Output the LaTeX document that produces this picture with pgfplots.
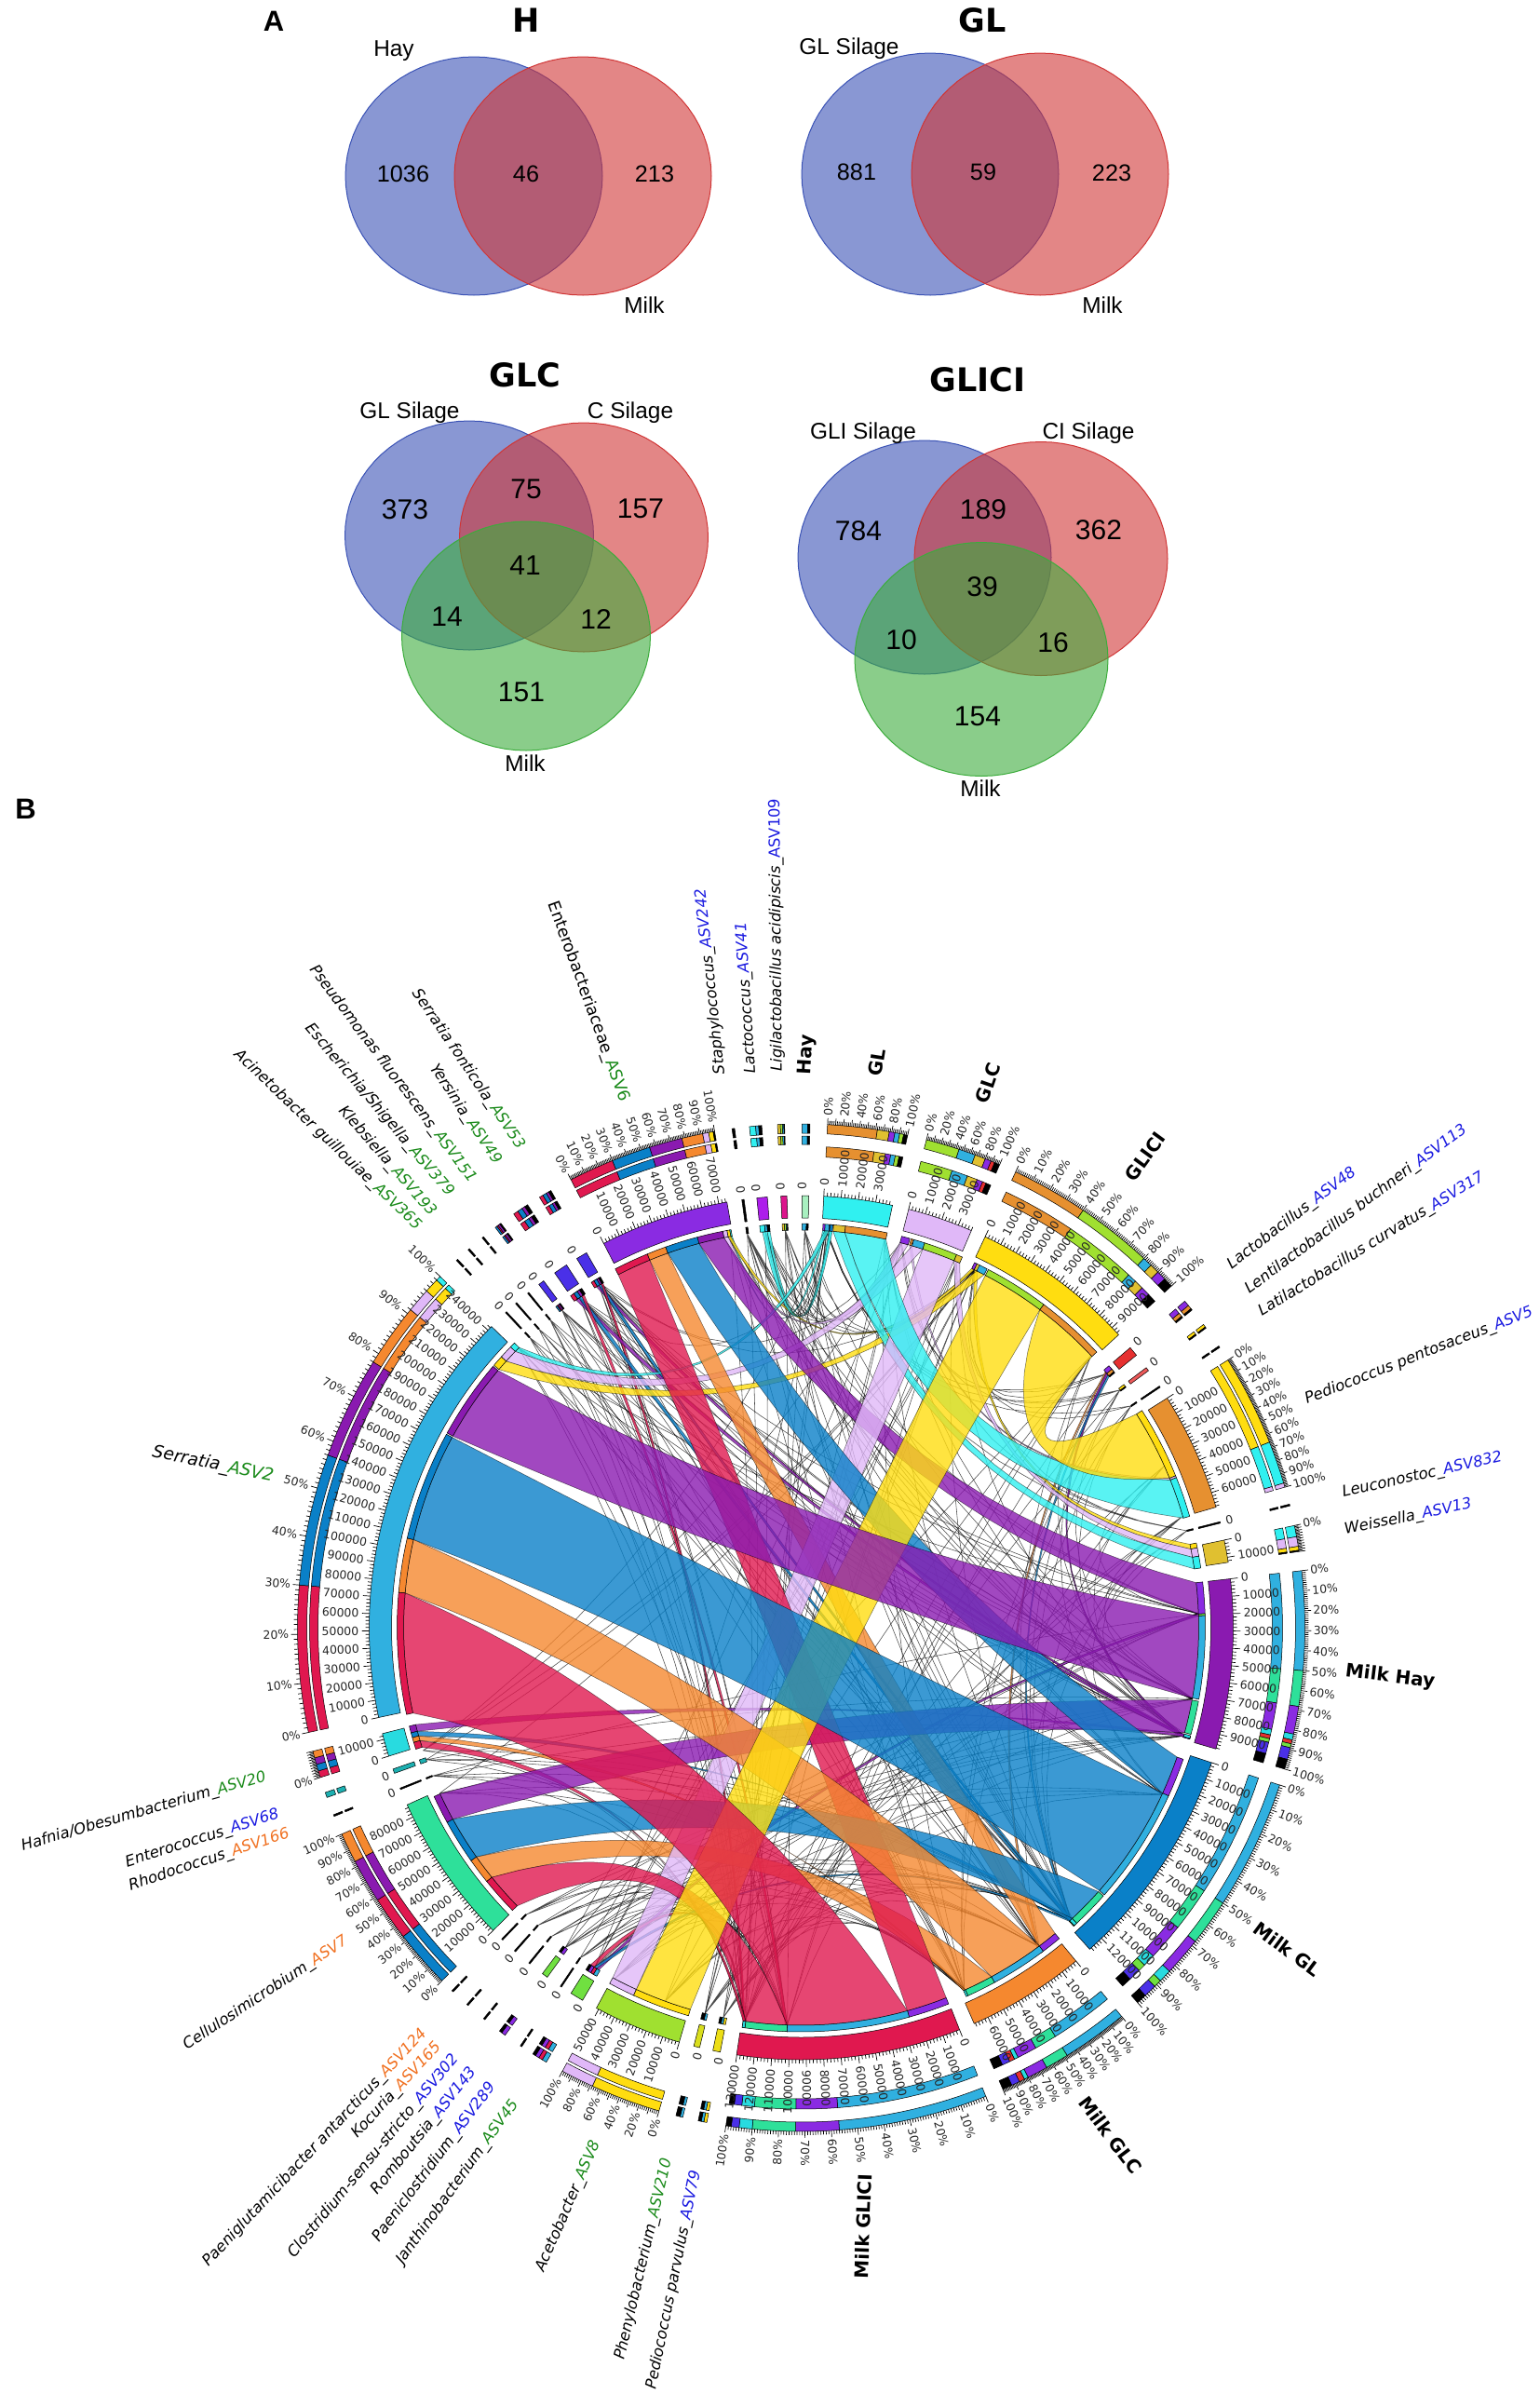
\documentclass[border=0pt]{standalone}
\usepackage{fontspec}
\usepackage{pgfplots}
\pgfplotsset{compat=1.18}
\setmainfont{DejaVu Sans}
\newfontfamily\arial{Liberation Sans}
\definecolor{crim}{HTML}{E0184F}
\definecolor{oran}{HTML}{F5882F}
\definecolor{blu}{HTML}{0A80C8}
\definecolor{purp}{HTML}{8A1AB0}
\definecolor{yel}{HTML}{FFDD10}
\definecolor{cya}{HTML}{30F0F0}
\definecolor{lil}{HTML}{E0B8F8}
\definecolor{aserr}{HTML}{30B0E0}
\definecolor{aent}{HTML}{8A2BE2}
\definecolor{acel}{HTML}{2EE09A}
\definecolor{aace}{HTML}{A0E030}
\definecolor{aped}{HTML}{E69030}
\definecolor{awei}{HTML}{E0C030}
\definecolor{atw}{HTML}{28DBE0}
\definecolor{ablue}{HTML}{4A30E8}
\definecolor{ared}{HTML}{E63030}
\definecolor{agreen}{HTML}{70E040}
\definecolor{hayc}{HTML}{A8F0C0}
\definecolor{vb}{HTML}{3A52B5}
\definecolor{vr}{HTML}{D03535}
\definecolor{vg}{HTML}{3CAC3C}
\definecolor{tg}{HTML}{1A8A1A}
\definecolor{tb}{HTML}{1A1AE0}
\definecolor{to}{HTML}{F07020}
\newcommand\ag[1]{\textcolor{tg}{ASV#1}}
\newcommand\ab[1]{\textcolor{tb}{ASV#1}}
\newcommand\ao[1]{\textcolor{to}{ASV#1}}
\def\Cx{860.5}\def\Cy{1748}
\newcount\ci\newcount\ck
\newcommand\arcpts[3]{%
  \pgfmathtruncatemacro\myn{max(1,ceil(abs((#2)-(#1))/1.5))}%
  \ci=0
  \loop
    \pgfmathsetmacro\myth{(#1)+((#2)-(#1))*\the\ci/\myn}%
    \pgfmathsetmacro\px{\Cx+(#3)*cos(\myth)}%
    \pgfmathsetmacro\py{\Cy-(#3)*sin(\myth)}%
    \xdef\pts{\pts(\px,\py)}%
  \ifnum\ci<\myn \advance\ci by 1 \repeat}
\newcommand\bezpts[4]{%
  \pgfmathsetmacro\ax{(#3)*cos(#1)}\pgfmathsetmacro\ay{(#3)*sin(#1)}%
  \pgfmathsetmacro\bx{(#3)*cos(#2)}\pgfmathsetmacro\by{(#3)*sin(#2)}%
  \pgfmathsetmacro\kx{0.285*(\ax+\bx)}\pgfmathsetmacro\ky{0.285*(\ay+\by)}%
  \ci=0
  \loop
    \pgfmathsetmacro\myt{\the\ci/#4}%
    \pgfmathsetmacro\px{\Cx+(1-\myt)*(1-\myt)*\ax+2*\myt*(1-\myt)*\kx+\myt*\myt*\bx}%
    \pgfmathsetmacro\py{\Cy-((1-\myt)*(1-\myt)*\ay+2*\myt*(1-\myt)*\ky+\myt*\myt*\by)}%
    \xdef\pts{\pts(\px,\py)}%
  \ifnum\ci<#4 \advance\ci by 1 \repeat}
\newcommand\ringseg[5]{%
  \gdef\pts{}\arcpts{#2}{#3}{#4}\arcpts{#3}{#2}{#5}\arcpts{#2}{#2}{#4}%
  \edef\tmp{\noexpand\addplot[fill=#1,draw=black,line width=0.25pt] coordinates {\pts};}\tmp}
\newcommand\chord[6]{%
  \gdef\pts{}\arcpts{#3}{#4}{427}\bezpts{#4}{#5}{427}{16}\arcpts{#5}{#6}{427}\bezpts{#6}{#3}{427}{16}%
  \edef\tmp{\noexpand\addplot[fill=#1,fill opacity=0.8,draw=black,draw opacity=0.55,line width=0.25pt] coordinates {\pts};}\tmp
  \ringseg{#2}{#3}{#4}{427}{434}\ringseg{#1}{#5}{#6}{427}{434}}
\newcommand\stack[5]{%
  \gdef\myprev{0}%
  \foreach \myf/\myc in {#5}{%
    \pgfmathsetmacro\myA{(#1)-((#1)-(#2))*\myprev}%
    \pgfmathsetmacro\myB{(#1)-((#1)-(#2))*\myf}%
    \ringseg{\myc}{\myA}{\myB}{#3}{#4}%
    \xdef\myprev{\myf}}}
\newcommand\placelab[3]{% angle, radius, text
  \pgfmathsetmacro\px{\Cx+(#2)*cos(#1)}\pgfmathsetmacro\py{\Cy-(#2)*sin(#1)}%
  \pgfmathsetmacro\mycs{cos(#1)}%
  \ifdim\mycs pt<0pt
    \pgfmathsetmacro\rr{(#1)+180}\def\anc{east}%
  \else
    \pgfmathsetmacro\rr{#1}\def\anc{west}%
  \fi
  \edef\tmp{\noexpand\node[val,rotate=\rr,anchor=\anc] at (axis cs:\px,\py) {#3};}\tmp}
\newcommand\valticks[2]{%
  \gdef\pts{}%
  \pgfmathtruncatemacro\nk{floor(((#1)-(#2))/0.4626)}%
  \ck=0
  \loop
    \pgfmathsetmacro\myth{(#1)-0.4626*\the\ck}%
    \pgfmathtruncatemacro\md{mod(\the\ck,5)}%
    \ifnum\md=0 \def\myln{472}\else\def\myln{468}\fi
    \pgfmathsetmacro\px{\Cx+464*cos(\myth)}\pgfmathsetmacro\py{\Cy-464*sin(\myth)}%
    \xdef\pts{\pts(\px,\py)}%
    \pgfmathsetmacro\px{\Cx+\myln*cos(\myth)}\pgfmathsetmacro\py{\Cy-\myln*sin(\myth)}%
    \xdef\pts{\pts(\px,\py)(nan,nan)}%
    \ifnum\md=0
      \edef\vv{\the\numexpr2000*\ck\relax}%
      \placelab{\myth}{475}{\vv}%
    \fi
  \ifnum\ck<\nk \advance\ck by 1 \repeat
  \edef\tmp{\noexpand\addplot[black,line width=0.35pt,unbounded coords=jump] coordinates {\pts};}\tmp}
\newcommand\pctticks[4]{% a b minorstep labelstep
  \gdef\pts{}%
  \pgfmathtruncatemacro\nk{100/#3}%
  \ck=0
  \loop
    \pgfmathsetmacro\myth{(#1)-((#1)-(#2))*\the\ck/\nk}%
    \edef\vv{\the\numexpr#3*\ck\relax}%
    \pgfmathtruncatemacro\md{mod(\vv,10)}%
    \ifnum\md=0 \def\myln{548}\else\def\myln{545}\fi
    \pgfmathsetmacro\px{\Cx+541*cos(\myth)}\pgfmathsetmacro\py{\Cy-541*sin(\myth)}%
    \xdef\pts{\pts(\px,\py)}%
    \pgfmathsetmacro\px{\Cx+\myln*cos(\myth)}\pgfmathsetmacro\py{\Cy-\myln*sin(\myth)}%
    \xdef\pts{\pts(\px,\py)(nan,nan)}%
    \pgfmathtruncatemacro\mm{mod(\vv,#4)}%
    \ifnum\mm=0
      \placelab{\myth}{550}{\vv\noexpand\%}%
    \fi
  \ifnum\ck<\nk \advance\ck by 1 \repeat
  \edef\tmp{\noexpand\addplot[black,line width=0.35pt,unbounded coords=jump] coordinates {\pts};}\tmp}
% big group sector: a b colour stack minor labelstep
\newcommand\grpsec[6]{%
  \ringseg{#3}{#1}{#2}{440}{464}%
  \stack{#1}{#2}{506}{517}{#4}\stack{#1}{#2}{531}{541}{#4}\valticks{#1}{#2}\pctticks{#1}{#2}{#5}{#6}}
\newcommand\asvsec[6]{%
  \ringseg{#3}{#1}{#2}{440}{464}%
  \stack{#1}{#2}{519}{528}{#4}\stack{#1}{#2}{531}{541}{#4}\valticks{#1}{#2}\pctticks{#1}{#2}{#5}{#6}}
\newcommand\smallsec[4]{%
  \ringseg{#3}{#1}{#2}{440}{464}\placelab{#1}{470}{0}%
  \stack{#1}{#2}{519}{528}{#4}\stack{#1}{#2}{531}{541}{#4}\stack{#1}{#2}{427}{434}{#4}}
\newcommand\thinfan[2]{%
  \gdef\pts{}%
  \foreach \mytg in {#2}{\bezpts{#1}{\mytg}{427}{10}\xdef\pts{\pts(nan,nan)}}%
  \edef\tmp{\noexpand\addplot[black,opacity=0.7,line width=0.28pt,unbounded coords=jump] coordinates {\pts};}\tmp}
\newcommand\venn[6]{%
  \gdef\pts{}\ci=0
  \loop
    \pgfmathsetmacro\px{#1+#3*cos(5*\the\ci)}\pgfmathsetmacro\py{#2+#4*sin(5*\the\ci)}%
    \xdef\pts{\pts(\px,\py)}%
  \ifnum\ci<72 \advance\ci by 1 \repeat
  \edef\tmp{\noexpand\addplot[fill=#5,fill opacity=0.6,draw=#6,line width=0.5pt] coordinates {\pts};}\tmp}
\newcommand\lab[5]{\node[lab,rotate=#3,anchor=#4] at (axis cs:#1,#2) {#5};}
\newcommand\blab[4]{\node[blab,rotate=#3] at (axis cs:#1,#2) {#4};}
\newcommand\vt[3]{\node[vt] at (axis cs:#1,#2) {#3};}
\newcommand\vn[3]{\node[vn] at (axis cs:#1,#2) {#3};}
\newcommand\vm[3]{\node[vm] at (axis cs:#1,#2) {#3};}
\newcommand\vl[3]{\node[vl] at (axis cs:#1,#2) {#3};}
\begin{document}
\begin{tikzpicture}
\tikzset{val/.style={font=\fontsize{6.2}{7}\selectfont,inner sep=0pt,text=black!85},
 lab/.style={font=\fontsize{8.2}{10}\selectfont,inner sep=0pt},
 blab/.style={font=\bfseries\fontsize{10}{12}\selectfont,inner sep=0pt},
 vt/.style={font=\bfseries\fontsize{17.5}{20}\selectfont,inner sep=0pt},
 vn/.style={font=\arial\fontsize{12.6}{15}\selectfont,inner sep=0pt},
 vm/.style={font=\arial\fontsize{15}{18}\selectfont,inner sep=0pt},
 vl/.style={font=\arial\fontsize{12.2}{14}\selectfont,inner sep=0pt}}
\begin{axis}[scale only axis,width=827pt,height=1285.5pt,hide axis,clip=false,
  xmin=0,xmax=1654,ymin=0,ymax=2571,y dir=reverse]
% ---------- Venn panels
\venn{509}{189}{138}{128}{vb}{vb}\venn{626}{189}{138}{128}{vr}{vr}
\venn{999}{187}{138}{130}{vb}{vb}\venn{1117}{187}{138}{130}{vr}{vr}
\venn{504}{575}{133.5}{123}{vb}{vb}\venn{627}{577}{133.5}{123}{vr}{vr}\venn{565}{683}{133.5}{123}{vg}{vg}
\venn{993}{598.5}{136}{125.5}{vb}{vb}\venn{1118}{600}{136}{125.5}{vr}{vr}\venn{1054}{708}{136}{125.5}{vg}{vg}
\node[font=\arial\bfseries\fontsize{15.5}{18}\selectfont,inner sep=0pt] at (axis cs:294,23) {A};
\node[font=\arial\bfseries\fontsize{15.5}{18}\selectfont,inner sep=0pt] at (axis cs:27.5,868.6) {B};
\vt{565}{22}{H}\vt{1055}{22}{GL}\vt{564}{403}{GLC}\vt{1050}{408}{GLICI}
\vl{423}{55}{Hay}\vl{692}{328}{Milk}\vl{912}{52}{GL Silage}\vl{1184}{328}{Milk}
\vl{440}{443}{GL Silage}\vl{677}{443}{C Silage}\vl{564}{820}{Milk}
\vl{927}{465}{GLI Silage}\vl{1169}{465}{CI Silage}\vl{1053}{847}{Milk}
\vn{433}{187}{1036}\vn{565}{187}{46}\vn{703}{187}{213}
\vn{920}{185}{881}\vn{1056}{185}{59}\vn{1194}{186}{223}
\vm{435}{547}{373}\vm{565}{525}{75}\vm{688}{546}{157}\vm{564}{607}{41}\vm{480}{662}{14}\vm{640}{665}{12}\vm{560}{743}{151}
\vm{922}{570}{784}\vm{1056}{547}{189}\vm{1180}{569}{362}\vm{1055}{630}{39}\vm{968}{687}{10}\vm{1131}{690}{16}\vm{1050}{769}{154}
% ---------- thin links of the small taxa
\thinfan{120.6}{-15.8,-10.3,2,-47.3,-24.8,-65.8,-53.3,-98.2,-92,64.2}
\thinfan{120.2}{-15.9,-10.4,-47.4,-53.4,-98.3,-92.1,75.5}
\thinfan{123.9}{-15.8,-10.3,2,-47.3,-24.8,-65.8,-53.3,-98.2,-92,86.4}
\thinfan{127}{-15.7,-10.3,-47.3,-24.8,-65.8,-98.2,-92}
\thinfan{129.2}{-15.9,-47.5,-65.8,-98.1,-92.1}
\thinfan{131.3}{-15.8,-47.4,-53.3,-98.4}
\thinfan{133.1}{-15.6,-47.3,-65.9,-92.2}
\thinfan{97.8}{-15.8,-10.3,2,-47.3,-24.8,-65.8,-98.2,86.4,75.5,64.2}
\thinfan{95.2}{-15.8,2,-47.3,-24.8,-53.3,-98.2,86.5,75.4,64.3}
\thinfan{92.3}{-15.7,-47.3,-65.8,-92,86.6,75.3,64.1}
\thinfan{89.5}{-10.3,-47.2,-53.3,-98,86.3,75.6,64.4}
\thinfan{39.7}{-15.8,-24.8,-53.3,-92,64.2,75.5,86.4}
\thinfan{36.7}{-10.3,-47.3,-65.8,-98.2,64.1,75.4,86.3}
\thinfan{33.9}{-15.8,-47.3,-65.8,-98.2,64.3,86.5}
\thinfan{14.1}{-15.8,-47.3,-98.2,64.2,75.4,86.4}
\thinfan{-101.3}{2,-15.8,-47.3,-24.8,-65.8,64.2,75.5,86.4}
\thinfan{-104}{2,-10.3,-47.3,-53.3,-65.8,64.1,75.5,86.3}
\thinfan{-121.3}{2,-15.8,-47.3,-65.8,-98.2,64.2,86.4}
\thinfan{-123.8}{-10.3,-47.3,-53.3,-98.2,-92,64.2}
\thinfan{-126.4}{2,-15.8,-24.8,-65.8,-92,75.5}
\thinfan{-129}{-15.8,-47.3,-53.3,-98.2}
\thinfan{-131.5}{-10.3,-47.3,-65.8,-92}
\thinfan{-133.8}{-15.8,-24.8,-53.3,-98.2}
\thinfan{-158.1}{2,-15.8,-47.3,-65.8,-98.2}
\thinfan{-160.6}{-10.3,-47.3,-53.3,-92,64.2}
\thinfan{24}{-15.8,2,-47.3,-65.8,-98.2}
\thinfan{-110}{2,-15.8,-47.3,-65.8}
\thinfan{198}{64.2,75.5,86.4,-98.3,-47.3}
\thinfan{204.6}{-15.6,-47.1,-65.7,-98.1,64.3}
\thinfan{100.3}{-15.4,-10.3,-47.2,-65.7,-98}
\thinfan{135.3}{-15.7,2.1,-47.2,-53.4,-92.1,-98.3}
\thinfan{16.3}{-10.4,-24.7,-53.2,-92.1,-98.4}
\thinfan{-118}{2.1,-10.4,-24.9,-53.2,-92.1}
\thinfan{43.2}{-15.8,-47.5,-98.2,-92,-126.4,-110}
\thinfan{67}{-16,-47.2,-98,-121.3,-110}
\thinfan{77.9}{-15.9,-10.2,-47,-65.8,-104}
% ---------- links (group end, taxon end), smallest first
\chord{oran}{ared}{-53.3}{-53.6}{40.1}{39.9}
\chord{purp}{ared}{-15.7}{-16}{39.9}{39.5}
\chord{blu}{ared}{-47.3}{-47.6}{39.5}{39.2}
\chord{purp}{ablue}{-15.6}{-15.9}{121}{120.6}
\chord{blu}{ablue}{-47.1}{-47.4}{120.6}{120.2}
\chord{crim}{ablue}{-98.1}{-98.3}{120.2}{119.9}
\chord{purp}{ablue}{-15.7}{-16}{124.5}{124}
\chord{blu}{ablue}{-47.2}{-47.5}{124}{123.5}
\chord{crim}{ablue}{-92}{-92.3}{123.5}{123.1}
\chord{purp}{agreen}{2}{1.7}{-120.6}{-121}
\chord{blu}{agreen}{-47.3}{-47.6}{-121}{-121.4}
\chord{crim}{agreen}{-98.2}{-98.4}{-121.4}{-122}
\chord{cya}{aent}{86.9}{86.6}{100.2}{100}
\chord{yel}{aent}{64.6}{64.2}{100.6}{100.2}
\chord{lil}{aped}{74.2}{73.9}{22.1}{21.8}
\chord{purp}{atw}{-15.5}{-15.9}{194.1}{195.1}
\chord{blu}{atw}{-47}{-47.5}{195.1}{195.8}
\chord{oran}{atw}{-65.6}{-65.9}{195.8}{196.5}
\chord{crim}{atw}{-98}{-98.4}{196.5}{197.5}
\chord{cya}{blu}{86}{85.6}{95.6}{94.9}
\chord{cya}{blu}{85.9}{85.5}{94.9}{94.5}
\chord{yel}{awei}{64.2}{63.7}{12.1}{11.4}
\chord{cya}{aserr}{86.6}{86}{136}{135.2}
\chord{lil}{aent}{75.6}{74.4}{101.2}{100.6}
\chord{lil}{awei}{67.4}{66.5}{11.4}{10.2}
\chord{yel}{aserr}{63.8}{62.6}{139.5}{137.9}
\chord{lil}{aserr}{73.8}{72.2}{137.9}{136}
\chord{cya}{awei}{85.4}{83.7}{10.2}{8.5}
\chord{oran}{aent}{-50.3}{-53.2}{112.4}{109.6}
\chord{oran}{acel}{-61.4}{-65.6}{218.9}{215.2}
\chord{purp}{aent}{6.5}{2}{104.9}{101.2}
\chord{lil}{aace}{72.2}{67.4}{-114.5}{-118.3}
\chord{purp}{acel}{-10.5}{-15.3}{208.8}{204.7}
\chord{blu}{aent}{-19}{-24.6}{109.6}{104.9}
\chord{crim}{aent}{-68.6}{-74.5}{117.4}{112.4}
\chord{crim}{acel}{-92}{-98}{224.4}{218.9}
\chord{blu}{acel}{-41.6}{-47}{215.2}{208.8}
\chord{cya}{aped}{83.7}{77.7}{21.8}{16}
\chord{oran}{aserr}{-53.2}{-61.4}{175}{167.2}
\chord{yel}{aace}{62.4}{53.1}{-106.2}{-114.5}
\chord{yel}{aped}{53.1}{43}{32.5}{22.1}
\chord{purp}{aserr}{1.7}{-10.2}{151.2}{139.7}
\chord{blu}{aserr}{-24.6}{-41.4}{167.2}{151.4}
\chord{crim}{aserr}{-74.5}{-92}{192.4}{175}
% ---------- sectors
\grpsec{87}{77.8}{cya}{.62/aped,.77/awei,.84/aent,.9/aserr,.95/aace,1/black}{2}{20}
\grpsec{75.6}{66.8}{lil}{.44/aace,.66/aserr,.8/awei,.88/aent,.93/ared,1/black}{2}{20}
\grpsec{64.8}{42.7}{yel}{.4/aped,.8/aace,.85/aserr,.9/awei,.95/aent,1/black}{1}{10}
\grpsec{6.5}{-16.3}{purp}{.5/aserr,.68/acel,.82/aent,.85/atw,.87/ared,.89/agreen,.95/ablue,1/black}{1}{10}
\grpsec{-18.2}{-48.1}{blu}{.5/aserr,.68/acel,.83/aent,.88/atw,.91/agreen,.96/ablue,1/black}{1}{10}
\grpsec{-50.5}{-66.4}{oran}{.48/aserr,.65/acel,.8/aent,.83/atw,.87/ared,.93/ablue,1/black}{1}{10}
\grpsec{-68.5}{-98.6}{crim}{.57/aserr,.735/aent,.9/acel,.95/atw,.98/ablue,1/black}{1}{10}
\asvsec{117.2}{99.9}{aent}{.3/crim,.56/blu,.78/purp,.92/oran,.96/lil,.99/yel,1/black}{1}{10}
\asvsec{192}{135.8}{aserr}{.3/crim,.57/blu,.78/purp,.91/oran,.96/lil,.99/yel,1/cya}{1}{10}
\asvsec{224.5}{204.2}{acel}{.33/blu,.58/crim,.83/purp,1/oran}{1}{10}
\asvsec{-106.4}{-118.3}{aace}{.68/yel,1/lil}{2}{20}
\asvsec{32.1}{16.2}{aped}{.66/yel,.97/cya,1/lil}{1}{10}
\asvsec{11.7}{8.7}{awei}{.43/cya,.8/lil,.95/yel,1/black}{5}{1000}
\asvsec{197.3}{194.2}{atw}{.25/crim,.5/blu,.75/purp,1/oran}{5}{1000}
\smallsec{121.3}{119.8}{ablue}{.3/crim,.6/blu,.8/purp,1/black}
\smallsec{124.8}{122.9}{ablue}{.3/crim,.6/blu,.8/purp,1/black}
\smallsec{127.4}{126.6}{ablue}{.3/blu,.5/crim,.8/purp,1/black}
\smallsec{129.3}{129.1}{black}{1/black}
\smallsec{131.4}{131.2}{black}{1/black}
\smallsec{133.2}{133}{black}{1/black}
\smallsec{97.9}{97.6}{black}{1/black}
\smallsec{95.9}{94.5}{aent!70!magenta}{.5/cya,.75/aserr,1/black}
\smallsec{92.7}{91.9}{magenta!80!purp}{.4/awei,.7/aace,.9/aserr,1/black}
\smallsec{89.9}{89}{hayc}{.7/aserr,1/black}
\smallsec{40.4}{39.1}{ared}{.5/aent,.85/aped,1/black}
\smallsec{37}{36.5}{ared!80!white}{.7/yel,1/black}
\smallsec{34}{33.8}{black}{1/black}
\smallsec{14.2}{14}{black}{1/black}
\smallsec{-100.8}{-101.8}{yel!80!aace}{.35/yel,.65/aserr,1/black}
\smallsec{-103.6}{-104.4}{yel!60!aace}{.4/aserr,1/black}
\smallsec{-120.4}{-122.2}{agreen}{.3/aserr,.55/crim,.8/aent,1/black}
\smallsec{-123.7}{-123.9}{black}{1/black}
\smallsec{-126}{-126.8}{agreen}{.6/aent,1/black}
\smallsec{-128.9}{-129.1}{black}{1/black}
\smallsec{-131.4}{-131.6}{black}{1/black}
\smallsec{-133.7}{-133.9}{black}{1/black}
\smallsec{-158}{-158.2}{black}{1/black}
\smallsec{-160.3}{-160.9}{acel!50!blu}{1/acel!50!blu}
% ---------- taxon names
\node[lab,font=\fontsize{8.8}{10}\selectfont,rotate=-70,anchor=east] at (axis cs:671,1183) {Enterobacteriaceae\_\ag{6}};
\lab{774}{1154}{96}{west}{\itshape Staphylococcus\_\ab{242}}
\lab{807}{1153.5}{93.6}{west}{\itshape Lactococcus\_\ab{41}}
\lab{835.4}{1150.7}{90.5}{west}{\itshape Ligilactobacillus acidipiscis\_\upshape\ab{109}}
\lab{1320}{1360}{37.2}{west}{\itshape Lactobacillus\_\ab{48}}
\lab{1339}{1386.4}{36.7}{west}{\itshape Lentilactobacillus buchneri\_\ab{113}}
\lab{1352.8}{1410}{31.5}{west}{\itshape Latilactobacillus curvatus\_\ab{317}}
\lab{1401.8}{1504}{21.4}{west}{\itshape Pediococcus pentosaceus\_\ab{5}}
\lab{1441.6}{1604}{12.8}{west}{\itshape Leuconostoc\_\ab{832}}
\lab{1443.8}{1643.6}{11.6}{west}{\itshape Weissella\_\ab{13}}
\lab{748}{2331}{78.4}{east}{\itshape Pediococcus parvulus\_\ab{79}}
\lab{717}{2318.4}{76.7}{east}{\itshape Phenylobacterium\_\ag{210}}
\lab{641}{2300}{66.4}{east}{\itshape Acetobacter\_\ag{8}}
\lab{554}{2257}{54.3}{east}{\itshape Janthinobacterium\_\ag{45}}
\lab{529.5}{2238.7}{53.2}{east}{\itshape Paeniclostridium\_\ab{289}}
\lab{509.4}{2222}{51.2}{east}{\itshape Romboutsia\_\ab{143}}
\lab{490}{2208}{50.5}{east}{\itshape Clostridium-sensu-stricto\_\ab{302}}
\lab{471.4}{2195.7}{47.3}{east}{\itshape Kocuria\_\ao{165}}
\lab{455.8}{2181.4}{46.8}{east}{\itshape Paeniglutamicibacter antarcticus\_\ao{124}}
\lab{372.3}{2083.3}{33.5}{east}{\itshape Cellulosimicrobium\_\ao{7}}
\lab{310.7}{1969}{18.4}{east}{\itshape Rhodococcus\_\ao{166}}
\lab{299.6}{1948.4}{17.8}{east}{\itshape Enterococcus\_\ab{68}}
\lab{285.9}{1908}{16}{east}{\itshape Hafnia/Obesumbacterium\_\ag{20}}
\node[lab,font=\fontsize{9.3}{11}\selectfont,rotate=-11.7,anchor=east] at (axis cs:293.8,1586.4) {\itshape Serratia\_\ag{2}};
\lab{450}{1318.6}{-43.8}{east}{\itshape Acinetobacter guillouiae\_\ag{365}}
\lab{465.9}{1304.3}{-49}{east}{\itshape Klebsiella\_\ag{193}}
\lab{484.4}{1282.9}{-49.7}{east}{\itshape Escherichia/Shigella\_\ag{379}}
\lab{508.2}{1268.6}{-53.1}{east}{\itshape Pseudomonas fluorescens\_\ag{151}}
\lab{534.7}{1249}{-56.3}{east}{\itshape Yersinia\_\ag{49}}
\lab{560}{1232.9}{-56}{east}{\itshape Serratia fonticola\_\ag{53}}
\blab{866.7}{1133}{87}{Hay}
\blab{941.6}{1141}{81}{GL}
\blab{1061}{1163}{71}{GLC}
\blab{1230}{1242}{54}{GLICI}
\blab{1493}{1801}{-7}{Milk Hay}
\blab{1382.6}{2093.5}{-36.7}{Milk GL}
\blab{1192.8}{2293}{-53}{Milk GLC}
\blab{927}{2391}{88}{Milk GLICI}
\end{axis}
\pgfresetboundingbox
\path (0,0) rectangle (827pt,1285.5pt);
\end{tikzpicture}
\end{document}
